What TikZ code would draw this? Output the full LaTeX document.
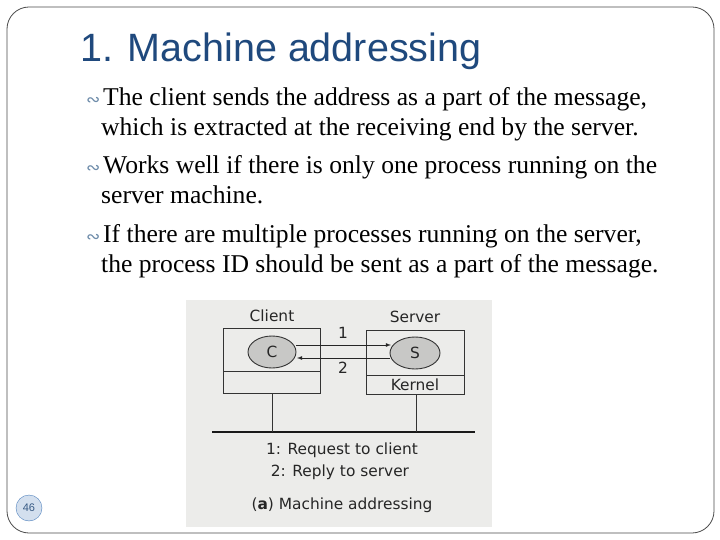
\documentclass[tikz,border=0pt]{standalone}
\usepackage{fontspec}
\usetikzlibrary{shapes.geometric}
\setmainfont{Liberation Serif}
\newfontfamily\titlefont{Liberation Sans}
\newfontfamily\figfont{DejaVu Sans}
\definecolor{titleblue}{RGB}{31,73,125}
\definecolor{bulletc}{RGB}{110,140,170}
\definecolor{photobg}{RGB}{236,236,234}
\definecolor{ellfill}{RGB}{200,200,198}
\definecolor{pgblue}{RGB}{79,129,189}
\begin{document}
\begin{tikzpicture}[x=1pt,y=-1pt,
  body/.style={anchor=base west,inner sep=0pt,font=\fontsize{25.6}{30}\selectfont},
  bul/.style={anchor=base west,inner sep=0pt,text=bulletc,font=\figfont\fontsize{17}{18}\selectfont},
  fig/.style={inner sep=0pt,font=\figfont\fontsize{15.4}{17}\selectfont,text=black!85},
  boxst/.style={draw=black!80,line width=0.9pt},
  ell/.style={draw=black!80,fill=ellfill,ellipse,line width=0.9pt}]
\useasboundingbox (0,0) rectangle (720,540);
\fill[white] (0,0) rectangle (720,540);
\draw[black!70,line width=0.8pt,rounded corners=22pt] (7,7) rectangle (714,533);
\node[anchor=base west,inner sep=0pt,text=titleblue,font=\titlefont\fontsize{39.5}{42}\selectfont] (title) at (80,62) {1. Machine addressing};
\foreach \y/\n in {106/a,174/b,242/c}{\node[bul] (b\n) at (86,\y) {∾};}
\node[body] (l1) at (103,106) {The client sends the address as a part of the message,};
\node[body] (l2) at (101,136) {which is extracted at the receiving end by the server.};
\node[body] (l3) at (103,174) {Works well if there is only one process running on the};
\node[body] (l4) at (101,204) {server machine.};
\node[body] (l5) at (103,242) {If there are multiple processes running on the server,};
\node[body] (l6) at (101,272) {the process ID should be sent as a part of the message.};
% figure
\fill[photobg] (186,300) rectangle (492,527);
\draw[boxst] (223,328) rectangle (320,393);
\draw[boxst] (223,371) -- (320,371);
\draw[boxst] (366,330) rectangle (464,394);
\draw[boxst] (366,375) -- (464,375);
\node[fig] (client) at (272,316) {Client};
\node[fig] (server) at (415,317) {Server};
\node[fig] (kernel) at (415,385) {Kernel};
\node[ell,minimum width=48pt,minimum height=32pt] (C) at (272,352) {};
\node[fig] at (C) {C};
\node[ell,minimum width=50pt,minimum height=32pt] (S) at (415,353) {};
\node[fig] at (S) {S};
\coordinate (a1s) at (296,345);
\coordinate (a1e) at (391,345);
\coordinate (a2s) at (390,358);
\coordinate (a2e) at (297,358);
\draw[-latex,black!85,line width=0.8pt] (a1s) -- (a1e);
\draw[-latex,black!85,line width=0.8pt] (a2s) -- (a2e);
\node[fig] (n1) at (343,333) {1};
\node[fig] (n2) at (343,368) {2};
\coordinate (bl) at (212,432);
\coordinate (br) at (475,432);
\draw[black!90,line width=2.2pt] (bl) -- (br);
\draw[boxst] (272,393) -- (272,432);
\draw[boxst] (416,394) -- (416,432);
\node[fig] (t1) at (342,450) {1: Request to client};
\node[fig] (t2) at (340,472) {2: Reply to server};
\node[fig] (t3) at (342,505) {(\textbf{a}) Machine addressing};
% page number
\node[circle,draw=pgblue,fill=pgblue!25,minimum size=26pt,inner sep=0pt,text=pgblue!70!black,font=\titlefont\fontsize{11}{12}\selectfont] (pg) at (29,508) {46};
\end{tikzpicture}
\end{document}
